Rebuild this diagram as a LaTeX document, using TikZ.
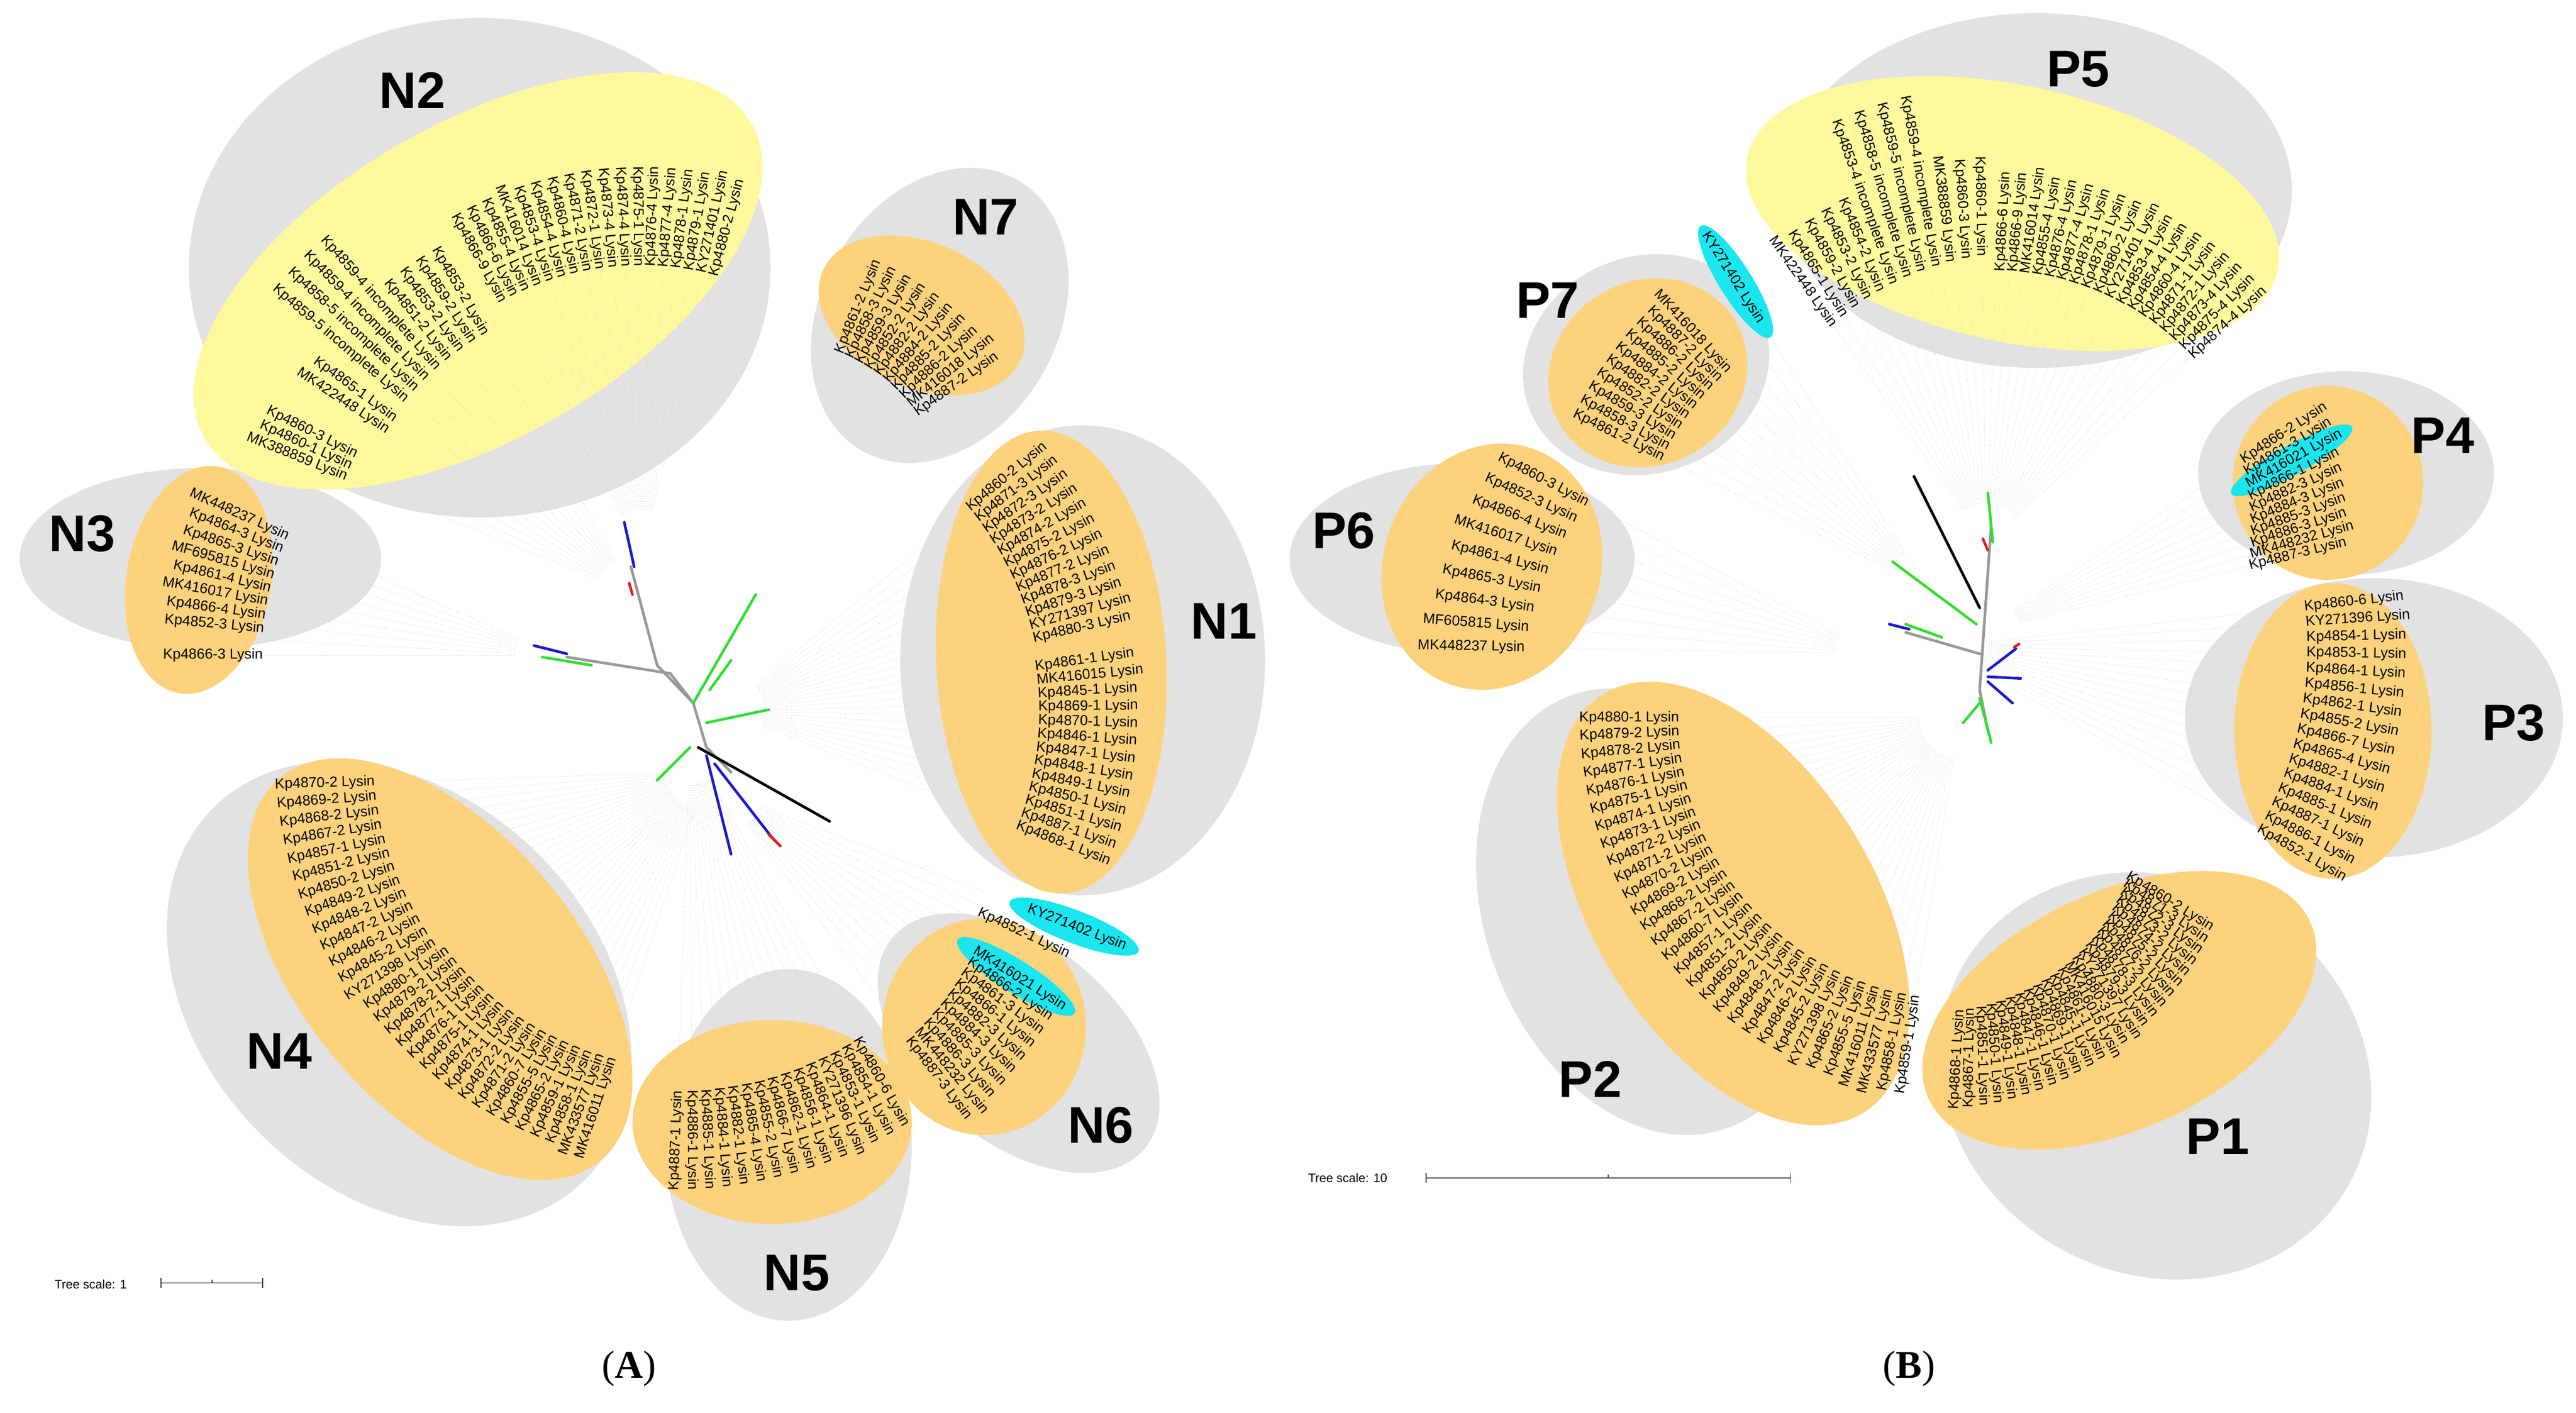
\documentclass[tikz,border=0pt]{standalone}
\usepackage{fontspec}
\setmainfont{Liberation Sans}
\newfontfamily\serifF{Liberation Serif}
\usetikzlibrary{calc}
\definecolor{grayE}{HTML}{E2E2E2}
\definecolor{yelE}{HTML}{FFF99E}
\definecolor{orgE}{HTML}{FDD27C}
\definecolor{cyE}{HTML}{19E6EE}
\definecolor{brGreen}{HTML}{33DD33}
\definecolor{brBlue}{HTML}{1A1ACC}
\definecolor{brRed}{HTML}{DD2222}
\definecolor{brGray}{HTML}{999999}
\tikzset{
  leaf/.style={font=\fontsize{7}{7}\selectfont, inner sep=0.6pt},
  clab/.style={font=\fontsize{25}{25}\selectfont\bfseries, inner sep=0pt},
  gE/.style={fill=grayE},
  yE/.style={fill=yelE},
  oE/.style={fill=orgE},
  cE/.style={fill=cyE},
  br/.style={line width=1.3pt, line cap=round},
  ray/.style={densely dotted, black!22, line width=0.25pt},
  scl/.style={font=\fontsize{6}{6}\selectfont, inner sep=0pt},
}
\def\rayfan#1#2#3#4#5#6{%
  \foreach \j in {1,...,#6} {%
    \pgfmathsetmacro\fT{(\j-1)/max(#6-1,1)}%
    \pgfmathsetmacro\fP{#4+\fT*(#5-#4)}%
    \pgfmathsetmacro\fR{#2+\fT*(#3-#2)}%
    \draw[ray] ($(#1)+(\fP:25)$) -- ($(#1)+(\fP:\fR)$);
  }%
}
\def\leaffan#1#2#3#4#5#6#7#8{%
  \foreach \lab [count=\i] in {#8} {%
    \pgfmathsetmacro\fT{(\i-1)/max(#7-1,1)}%
    \pgfmathsetmacro\fP{#5+\fT*(#6-#5)}%
    \pgfmathsetmacro\fR{#3+\fT*(#4-#3)}%
    \pgfmathsetmacro\fC{cos(\fP)}%
    \ifdim\fC pt<0pt
      \pgfmathsetmacro\fQ{\fP+180}%
      \node[leaf,anchor=east,rotate=\fQ] (#1-\i) at ($(#2)+(\fP:\fR)$) {\lab\ Lysin};
    \else
      \node[leaf,anchor=west,rotate=\fP] (#1-\i) at ($(#2)+(\fP:\fR)$) {\lab\ Lysin};
    \fi
  }%
}
\begin{document}
\begin{tikzpicture}[x=0.028cm,y=0.028cm]
\useasboundingbox[fill=white] (0,0) rectangle (1568,860);

\fill[gE] (292,697) ellipse [x radius=177,y radius=152];
\fill[gE,rotate around={-30:(572,668)}] (572,668) ellipse [x radius=72,y radius=95];
\fill[gE] (122,520) ellipse [x radius=110,y radius=55];
\fill[gE] (659,458) ellipse [x radius=111,y radius=143];
\fill[gE,rotate around={-45:(243,255)}] (243,255) ellipse [x radius=160,y radius=120];
\fill[gE] (480,163) ellipse [x radius=75,y radius=107];
\fill[gE,rotate around={-40:(620,225)}] (620,225) ellipse [x radius=100,y radius=60];

\fill[yE,rotate around={30:(291,689)}] (291,689) ellipse [x radius=192,y radius=96];
\fill[oE,rotate around={-25:(561,668)}] (561,668) ellipse [x radius=66,y radius=44];
\fill[oE,rotate around={-10:(121,507)}] (121,507) ellipse [x radius=44,y radius=70];
\fill[oE,rotate around={3:(640,457)}] (640,457) ellipse [x radius=70,y radius=141];
\fill[oE,rotate around={-50:(268,270)}] (268,270) ellipse [x radius=152,y radius=84];
\fill[oE] (470,177) ellipse [x radius=85,y radius=62];
\fill[oE] (599,235) ellipse [x radius=62,y radius=66];

\fill[gE] (1240,744) ellipse [x radius=155,y radius=108];
\fill[gE,rotate around={20:(1002,638)}] (1002,638) ellipse [x radius=76,y radius=66];
\fill[gE] (890,520) ellipse [x radius=105,y radius=58];
\fill[gE] (1428,572) ellipse [x radius=90,y radius=62];
\fill[gE] (1445,423) ellipse [x radius=115,y radius=85];
\fill[gE,rotate around={20:(1004,305)}] (1004,305) ellipse [x radius=100,y radius=140];
\fill[gE,rotate around={-30:(1312,205)}] (1312,205) ellipse [x radius=135,y radius=120];

\fill[yE,rotate around={-12:(1225,730)}] (1225,730) ellipse [x radius=165,y radius=78];
\fill[oE,rotate around={30:(1003,633)}] (1003,633) ellipse [x radius=62,y radius=56];
\fill[oE,rotate around={-20:(908,515)}] (908,515) ellipse [x radius=66,y radius=76];
\fill[oE] (1417,566) ellipse [x radius=58,y radius=59];
\fill[oE] (1420,415) ellipse [x radius=60,y radius=90];
\fill[oE,rotate around={-58:(1055,310)}] (1055,310) ellipse [x radius=150,y radius=85];
\fill[oE,rotate around={25:(1290,245)}] (1290,245) ellipse [x radius=128,y radius=72];

\coordinate (FA) at (441,427);
\coordinate (F2a) at (390,525);
\coordinate (F2b) at (387,498);
\coordinate (F7) at (471,547);
\coordinate (F3) at (338,461);
\coordinate (F4) at (430,390);
\coordinate (F5) at (420,407);
\coordinate (F6) at (440,378);
\coordinate (G5) at (1209,529);
\coordinate (G7) at (1173,502);
\coordinate (G6) at (1142,462);
\coordinate (G4) at (1205,475);
\coordinate (G3) at (1181,466);
\coordinate (G2) at (1193,423);
\coordinate (G1) at (1201,386);

\rayfan{F2a}{172}{172}{119}{75}{18}
\rayfan{F2b}{182}{189}{120}{158}{13}
\rayfan{F3}{177}{177}{156}{180}{9}
\rayfan{FA}{192}{190}{39.7}{-21.3}{25}
\rayfan{F4}{201}{182}{181.7}{251.8}{30}
\rayfan{F5}{205}{210}{-60.5}{-92}{15}
\rayfan{F6}{171}{187}{-21}{-53}{12}
\rayfan{G5}{161}{168}{125}{42.4}{30}
\rayfan{G6}{197}{213}{152.4}{179}{9}
\rayfan{G4}{190}{168}{33.2}{13.8}{10}
\rayfan{G3}{222}{222}{6.3}{-29.7}{16}
\rayfan{G2}{170}{170}{180}{261}{30}
\rayfan{G7}{178}{178}{122}{153.7}{11}

\coordinate (cA1) at ($(F6)+(-21:229)$);
\coordinate (cA2) at ($(F6)+(-32.2:211)$);
\coordinate (cB1) at ($(G7)+(122:220)$);
\coordinate (cB2) at ($(G4)+(28.9:217)$);
\fill[cE,rotate around={-21:(cA1)}] (cA1) ellipse [x radius=42,y radius=10];
\fill[cE,rotate around={-32.2:(cA2)}] (cA2) ellipse [x radius=42,y radius=10];
\fill[cE,rotate around={-58:(cB1)}] (cB1) ellipse [x radius=40,y radius=10];
\fill[cE,rotate around={28.9:(cB2)}] (cB2) ellipse [x radius=42,y radius=9];

\draw[br,brGray] (384,515) -- (400,455) -- (422,432) -- (430,405) -- (445,390);
\draw[br,brGray] (345,460) -- (408,450) -- (422,432);
\draw[br,brBlue] (380,542) -- (386,515);
\draw[br,brBlue] (325,467) -- (345,462);
\draw[br,brRed] (383,505) -- (385,498);
\draw[br,brGreen] (330,460) -- (360,455);
\draw[br,brGreen] (422,432) -- (460,498);
\draw[br,brGreen] (432,440) -- (445,458);
\draw[br,brGreen] (430,420) -- (468,428);
\draw[br,brGreen] (420,405) -- (400,385);
\draw[br,black] (425,405) -- (505,360);
\draw[br,brBlue] (430,400) -- (445,340);
\draw[br,brBlue] (435,395) -- (470,350);
\draw[br,brRed] (468,352) -- (475,345);

\draw[br,brGray] (1212,540) -- (1205,440) -- (1210,415);
\draw[br,brGray] (1160,475) -- (1205,462);
\draw[br,black] (1165,570) -- (1205,490);
\draw[br,brGreen] (1152,518) -- (1203,480);
\draw[br,brGreen] (1160,480) -- (1182,472);
\draw[br,brGreen] (1210,560) -- (1213,530);
\draw[br,brGreen] (1205,435) -- (1212,408);
\draw[br,brGreen] (1205,432) -- (1195,420);
\draw[br,brBlue] (1150,480) -- (1162,477);
\draw[br,brBlue] (1210,452) -- (1227,465);
\draw[br,brBlue] (1210,448) -- (1230,447);
\draw[br,brBlue] (1210,445) -- (1225,432);
\draw[br,brRed] (1207,532) -- (1210,525);
\draw[br,brRed] (1226,466) -- (1229,468);

\leaffan{n2a}{F2a}{172}{172}{119}{75}{18}{Kp4866-9,Kp4866-6,Kp4855-4,MK416014,Kp4853-4,Kp4854-4,Kp4860-4,Kp4871-2,Kp4872-1,Kp4873-4,Kp4874-4,Kp4875-1,Kp4876-4,Kp4877-4,Kp4878-1,Kp4879-1,KY271401,Kp4880-2}
\leaffan{n2b}{F2b}{182}{182}{120}{139.6}{8}{Kp4853-2,Kp4859-2,Kp4853-2,Kp4851-2,Kp4859-4 incomplete,Kp4859-4 incomplete,Kp4858-5 incomplete,Kp4859-5 incomplete}
\leaffan{n2c}{F2b}{180}{180}{143.8}{146.5}{2}{Kp4865-1,MK422448}
\leaffan{n2d}{F2b}{189}{189}{153.4}{157.9}{3}{Kp4860-3,Kp4860-1,MK388859}
\leaffan{n7}{F7}{105}{105}{67.8}{35.4}{10}{Kp4861-2,Kp4858-3,Kp4859-3,Kp4852-2,Kp4882-2,Kp4884-2,Kp4885-2,Kp4886-2,MK416018,Kp4887-2}
\leaffan{n3}{F3}{177}{177}{156}{174.8}{8}{MK448237,Kp4864-3,Kp4865-3,MF695815,Kp4861-4,MK416017,Kp4866-4,Kp4852-3}
\leaffan{n3b}{F3}{177}{177}{180}{180}{1}{Kp4866-3}
\leaffan{n1a}{FA}{192}{192}{39.7}{13.2}{12}{Kp4860-2,Kp4871-3,Kp4872-3,Kp4873-2,Kp4874-2,Kp4875-2,Kp4876-2,Kp4877-2,Kp4878-3,Kp4879-3,KY271397,Kp4880-3}
\leaffan{n1b}{FA}{190}{190}{8.1}{-21.3}{13}{Kp4861-1,MK416015,Kp4845-1,Kp4869-1,Kp4870-1,Kp4846-1,Kp4847-1,Kp4848-1,Kp4849-1,Kp4850-1,Kp4851-1,Kp4887-1,Kp4868-1}
\leaffan{n4a}{F4}{201}{194}{181.7}{212}{13}{Kp4870-2,Kp4869-2,Kp4868-2,Kp4867-2,Kp4857-1,Kp4851-2,Kp4850-2,Kp4849-2,Kp4848-2,Kp4847-2,Kp4846-2,Kp4845-2,KY271398}
\leaffan{n4b}{F4}{190}{182}{214.5}{251.8}{17}{Kp4880-1,Kp4879-2,Kp4878-2,Kp4877-1,Kp4876-1,Kp4875-1,Kp4874-1,Kp4873-1,Kp4872-2,Kp4871-2,Kp4860-7,Kp4855-5,Kp4865-2,Kp4859-1,Kp4858-1,MK433577,MK416011}
\leaffan{n5}{F5}{205}{210}{-60.5}{-92}{15}{Kp4860-6,Kp4854-1,Kp4853-1,KY271396,Kp4864-1,Kp4856-1,Kp4862-1,Kp4866-7,Kp4855-2,Kp4865-4,Kp4882-1,Kp4884-1,Kp4885-1,Kp4886-1,Kp4887-1}
\leaffan{n6k}{F6}{198}{198}{-21}{-21}{1}{KY271402}
\leaffan{n6a}{F6}{171}{171}{-25.2}{-25.2}{1}{Kp4852-1}
\leaffan{n6b}{F6}{180}{187}{-32.2}{-53}{10}{MK416021,Kp4866-2,Kp4861-3,Kp4866-1,Kp4882-3,Kp4884-3,Kp4885-3,Kp4886-3,MK448232,Kp4887-3}

\leaffan{p5a}{G5}{161}{174}{125}{91}{12}{MK422448,Kp4865-1,Kp4859-2,Kp4853-2,Kp4854-2,Kp4853-4 incomplete,Kp4858-5 incomplete,Kp4859-5 incomplete,Kp4859-4 incomplete,MK388859,Kp4860-3,Kp4860-1}
\leaffan{p5b}{G5}{165}{168}{87}{42.4}{18}{Kp4866-6,Kp4866-9,MK416014,Kp4855-4,Kp4876-4,Kp4877-4,Kp4878-1,Kp4879-1,Kp4880-2,KY271401,Kp4853-4,Kp4854-4,Kp4860-4,Kp4871-1,Kp4872-1,Kp4873-4,Kp4875-4,Kp4874-4}
\leaffan{p7k}{G7}{190}{190}{122}{122}{1}{KY271402}
\leaffan{p7}{G7}{178}{178}{132.4}{153.7}{10}{MK416018,Kp4887-2,Kp4886-2,Kp4885-2,Kp4884-2,Kp4882-2,Kp4852-2,Kp4859-3,Kp4858-3,Kp4861-2}
\leaffan{p6}{G6}{197}{213}{152.4}{179}{9}{Kp4860-3,Kp4852-3,Kp4866-4,MK416017,Kp4861-4,Kp4865-3,Kp4864-3,MF605815,MK448237}
\leaffan{p4}{G4}{190}{168}{33.2}{13.8}{10}{Kp4866-2,Kp4861-3,MK416021,Kp4866-1,Kp4882-3,Kp4884-3,Kp4885-3,Kp4886-3,MK448232,Kp4887-3}
\leaffan{p3}{G3}{222}{222}{6.3}{-29.7}{16}{Kp4860-6,KY271396,Kp4854-1,Kp4853-1,Kp4864-1,Kp4856-1,Kp4862-1,Kp4855-2,Kp4866-7,Kp4865-4,Kp4882-1,Kp4884-1,Kp4885-1,Kp4887-1,Kp4886-1,Kp4852-1}
\leaffan{p2}{G2}{170}{170}{180}{261}{30}{Kp4880-1,Kp4879-2,Kp4878-2,Kp4877-1,Kp4876-1,Kp4875-1,Kp4874-1,Kp4873-1,Kp4872-2,Kp4871-2,Kp4870-2,Kp4869-2,Kp4868-2,Kp4867-2,Kp4860-7,Kp4857-1,Kp4851-2,Kp4850-2,Kp4849-2,Kp4848-2,Kp4847-2,Kp4846-2,Kp4845-2,KY271398,Kp4865-2,Kp4855-5,MK416011,MK433577,Kp4858-1,Kp4859-1}
\leaffan{p1}{G1}{110}{140}{-32}{-93.3}{25}{Kp4860-2,Kp4871-3,Kp4872-3,Kp4873-2,Kp4874-2,Kp4875-2,Kp4876-2,Kp4877-2,Kp4878-3,Kp4879-3,KY271397,Kp4880-3,MK416015,Kp4861-1,Kp4845-1,Kp4869-1,Kp4870-1,Kp4846-1,Kp4847-1,Kp4848-1,Kp4849-1,Kp4850-1,Kp4851-1,Kp4867-1,Kp4868-1}

\node[clab] (lN2) at (251,805) {N2};
\node[clab] (lN7) at (600,728) {N7};
\node[clab] (lN3) at (50,535) {N3};
\node[clab] (lN1) at (745,482) {N1};
\node[clab] (lN4) at (170,220) {N4};
\node[clab] (lN5) at (485,85) {N5};
\node[clab] (lN6) at (670,175) {N6};
\node[clab] (lP5) at (1265,818) {P5};
\node[clab] (lP7) at (942,677) {P7};
\node[clab] (lP6) at (818,537) {P6};
\node[clab] (lP4) at (1487,595) {P4};
\node[clab] (lP3) at (1530,420) {P3};
\node[clab] (lP2) at (968,203) {P2};
\node[clab] (lP1) at (1350,168) {P1};

\node[scl,anchor=west] (tsA) at (33,78) {Tree scale: 1};
\coordinate (sa1) at (98,79); \coordinate (sa2) at (160,79); \coordinate (sam) at (129,79);
\draw[line width=0.5pt,black!70] (sa1) -- (sa2);
\draw[line width=0.5pt,black!70] ($(sa1)+(0,-3)$) -- ($(sa1)+(0,3)$);
\draw[line width=0.5pt,black!70] ($(sa2)+(0,-3)$) -- ($(sa2)+(0,3)$);
\draw[line width=0.5pt,black!70] (sam) -- ($(sam)+(0,2)$);
\node[scl,anchor=west] (tsB) at (796,143) {Tree scale: 10};
\coordinate (sb1) at (868,143); \coordinate (sb2) at (1090,143); \coordinate (sbm) at (979,143);
\draw[line width=0.5pt,black!70] (sb1) -- (sb2);
\draw[line width=0.5pt,black!70] ($(sb1)+(0,-3)$) -- ($(sb1)+(0,3)$);
\draw[line width=0.5pt,black!70] ($(sb2)+(0,-3)$) -- ($(sb2)+(0,3)$);
\draw[line width=0.5pt,black!70] (sbm) -- ($(sbm)+(0,2)$);

\node[font=\serifF\fontsize{19}{19}\selectfont] (pA) at (383,27) {(\textbf{A})};
\node[font=\serifF\fontsize{19}{19}\selectfont] (pB) at (1162,27) {(\textbf{B})};
\end{tikzpicture}
\end{document}
